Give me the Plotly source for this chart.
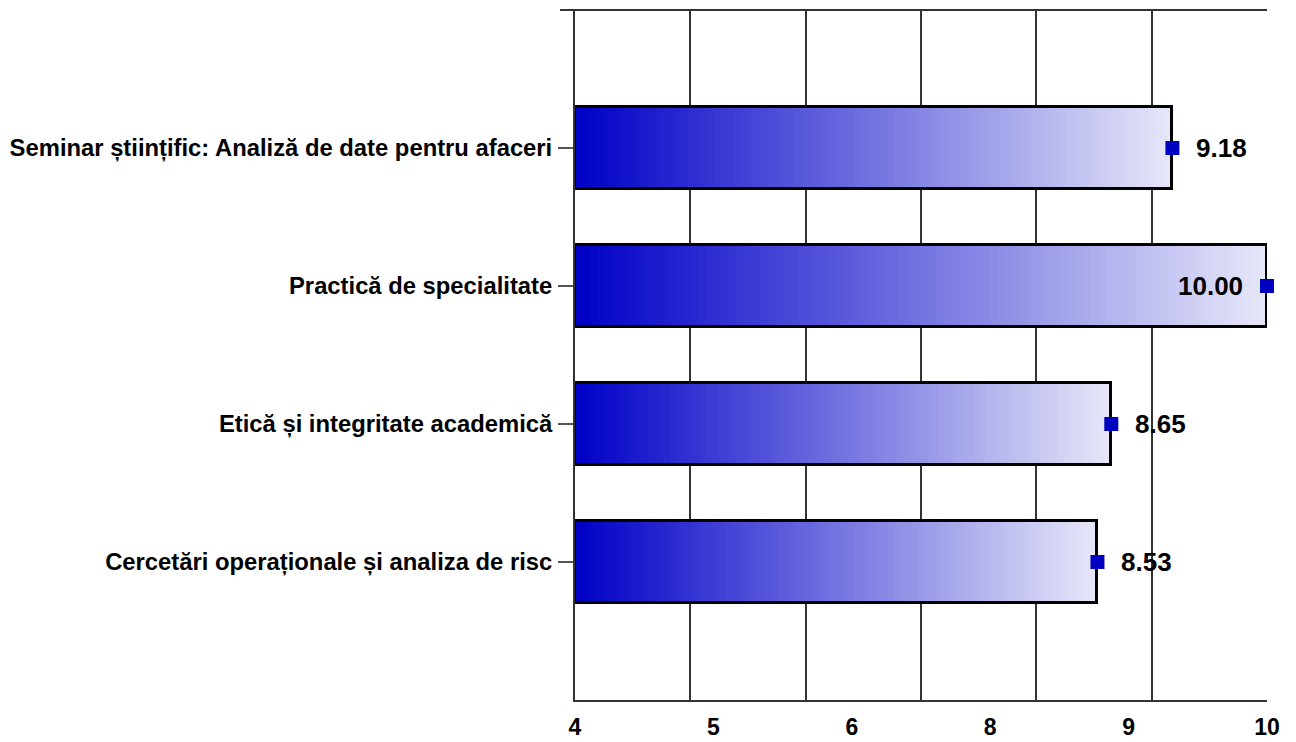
import numpy as np
import plotly.graph_objects as go

categories = [
    "Seminar științific: Analiză de date pentru afaceri",
    "Practică de specialitate",
    "Etică și integritate academică",
    "Cercetări operaționale și analiza de risc",
]
values = [9.18, 10.00, 8.65, 8.53]
value_labels = ["9.18", "10.00", "8.65", "8.53"]
tick_vals = [4, 5.2, 6.4, 7.6, 8.8, 10]
tick_text = ["4", "5", "6", "8", "9", "10"]
x_min, x_max = 4, 10

FONT = "Liberation Sans, Arial, sans-serif"
c0 = np.array([0, 0, 200])
c1 = np.array([232, 232, 250])
N = 90
bar_w = 0.59

fig = go.Figure()
vals = np.array(values)
lengths = vals - x_min
for k in range(N):
    t = (k + 0.5) / N
    col = c0 + (c1 - c0) * t
    fig.add_trace(go.Bar(
        y=categories, x=lengths / N * 1.02, base=x_min + lengths * k / N,
        orientation="h", width=bar_w,
        marker=dict(color="rgb(%d,%d,%d)" % tuple(col.astype(int)), line=dict(width=0)),
        showlegend=False, hoverinfo="skip",
    ))
fig.add_trace(go.Bar(
    y=categories, x=lengths, base=x_min, orientation="h", width=bar_w,
    marker=dict(color="rgba(0,0,0,0)", line=dict(color="black", width=3)),
    showlegend=False, hoverinfo="skip",
))
fig.add_trace(go.Scatter(
    y=categories, x=values, mode="markers",
    marker=dict(symbol="square", size=14, color="#0000C0"),
    showlegend=False, cliponaxis=False,
))
for c, v, lab in zip(categories, values, value_labels):
    inside = v >= x_max
    fig.add_annotation(
        x=v, y=c, text=lab, showarrow=False,
        xanchor="right" if inside else "left",
        xshift=-22 if inside else 22,
        font=dict(family=FONT, size=26, color="black", weight="bold"),
    )

fig.update_layout(
    width=1288, height=734,
    margin=dict(l=564, r=29, t=2, b=42),
    paper_bgcolor="white", plot_bgcolor="white",
    barmode="overlay", bargap=0,
    xaxis=dict(
        range=[x_min, x_max], tickmode="array", tickvals=tick_vals, ticktext=tick_text,
        showgrid=False, zeroline=False, showline=True, linecolor="#333", linewidth=2,
        ticks="", ticklabelstandoff=5,
        tickfont=dict(family=FONT, size=23, color="black", weight="bold"),
        minor=dict(tickmode="linear", tick0=4, dtick=1, showgrid=True, gridcolor="#333", gridwidth=2, ticks=""),
    ),
    yaxis=dict(
        type="category", range=[4, -1], showgrid=False, zeroline=False,
        showline=True, linecolor="#333", linewidth=2,
        ticks="outside", ticklen=15, tickwidth=2, tickcolor="#555",
        ticklabelstandoff=1,
        tickfont=dict(family=FONT, size=23.8, color="black", weight="bold"),
    ),
    shapes=[dict(type="line", xref="paper", yref="paper", x0=-15/695, x1=1, y0=1, y1=1,
                 line=dict(color="#333", width=2))],
)
fig.write_html("out.html")
